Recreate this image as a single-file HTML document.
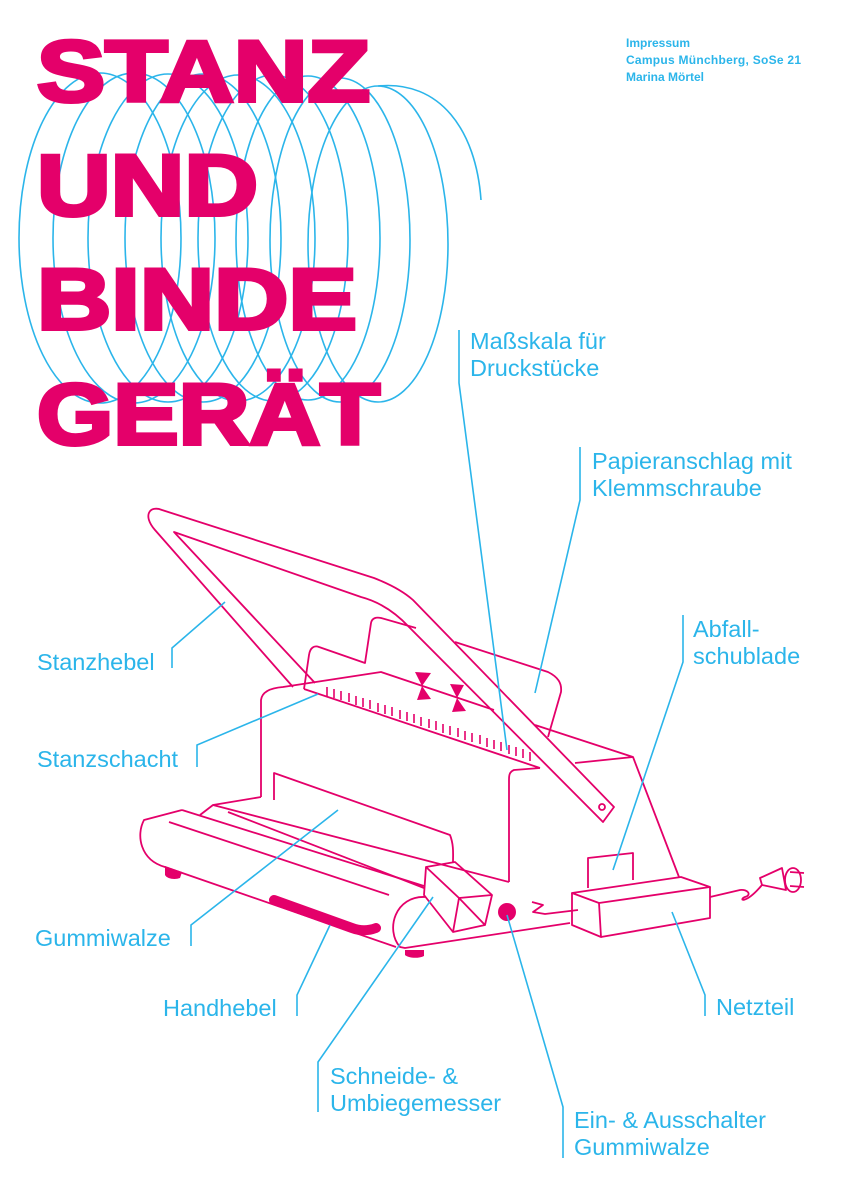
<!DOCTYPE html>
<html><head><meta charset="utf-8"><style>
html,body{margin:0;padding:0;background:#fff}
svg{display:block}
.t{font-family:"Liberation Sans",sans-serif;fill:#2bb5ea;font-size:23.5px}
.i{font-family:"Liberation Sans",sans-serif;fill:#2bb5ea;font-size:12px;font-weight:bold}
.h{font-family:"Liberation Sans",sans-serif;fill:#e4006a;stroke:#e4006a;stroke-width:4;font-weight:900;font-size:86px}
</style></head><body>
<svg width="842" height="1191" viewBox="0 0 842 1191" xmlns="http://www.w3.org/2000/svg">
<g fill="none" stroke="#2bb5ea" stroke-width="1.6">
<ellipse cx="100" cy="238" rx="81" ry="165"/>
<ellipse cx="134" cy="238" rx="81" ry="165"/>
<ellipse cx="168" cy="238" rx="80" ry="164"/>
<ellipse cx="203" cy="238" rx="78" ry="164"/>
<ellipse cx="238" cy="238" rx="77" ry="163"/>
<ellipse cx="273" cy="238" rx="75" ry="163"/>
<ellipse cx="308" cy="238" rx="72" ry="162"/>
<ellipse cx="340" cy="240" rx="70" ry="162"/>
<ellipse cx="378" cy="244" rx="70" ry="158"/>
<path d="M378 86 C440 80 476 130 481 200"/>
</g>
<text class="h" x="37" y="101" textLength="333" lengthAdjust="spacingAndGlyphs">STANZ</text>
<text class="h" x="37" y="215" textLength="221" lengthAdjust="spacingAndGlyphs">UND</text>
<text class="h" x="37" y="329" textLength="320" lengthAdjust="spacingAndGlyphs">BINDE</text>
<text class="h" x="37" y="444" textLength="343" lengthAdjust="spacingAndGlyphs">GERÄT</text>

<text class="i" x="626" y="47">Impressum</text>
<text class="i" x="626" y="64" textLength="175">Campus Münchberg, SoSe 21</text>
<text class="i" x="626" y="81">Marina Mörtel</text>

<g fill="none" stroke="#e4006a" stroke-width="1.8" stroke-linejoin="round">
<path d="M293 687 L155 530 C142 515 150 505 162 510 L374 578 C392 585 404 592 413 600 L614 807 L603 822 L409 627 C395 612 380 602 361 597 L174 532 L315 683"/>
<circle cx="602" cy="807" r="3"/>
<path d="M304 689 L309 655 C310 648 314 645 319 647 L365 663 L371 623 C372 618 376 617 381 618 L416 628"/>
<path d="M455 642 L548 672 C558 677 562 683 561 692 L548 737"/>
<path d="M261 797 L261 700 C262 692 270 688 283 687 L381 672 L494 710"/>
<path d="M304 689 L540 768"/>
<path d="M535 725 L633 757 L679 877"/>
<path d="M575 763 L633 757"/>
<path d="M540 768 L514 770 C509 772 509 776 509 780 L509 882"/>
<path d="M261 797 L213 805 L200 815"/>
<path d="M213 805 L509 882"/>
<path d="M274 800 L274 773 L450 835 C454 845 453 855 453 862"/>
<path d="M182 810 L144 820 C136 835 140 860 165 867 L396 947"/>
<path d="M169 822 L389 895"/>
<path d="M228 812 L424 888"/>
<path d="M182 810 L424 886"/>
<path d="M426 897 C395 895 385 930 400 947 L405 948 L570 923"/>
<path d="M426 867 L455 862 L492 895 L485 925 L453 932 L424 895 Z"/>
<path d="M426 867 L459 898 L492 895 M459 898 L453 932 M459 898 L485 925"/>
<path d="M532 902 L543 905 L533 912 L545 914 L578 910"/>
<path d="M588 888 L588 858 L633 853 L633 880"/>
<path d="M572 893 L681 877 L710 887 L599 903 Z"/>
<path d="M572 893 L572 925 L601 937 L599 903"/>
<path d="M601 937 L710 918 L710 887"/>
<path d="M710 897 L740 890 C748 889 752 895 745 897 C738 900 745 905 762 885"/>
<path d="M762 885 L760 878 L782 868 L786 890 Z"/>
<ellipse cx="793" cy="880" rx="8" ry="12"/>
<path d="M790 872 L804 873 M790 886 L804 887"/>
</g>
<g stroke="#e4006a" stroke-width="1.6">
<path d="M327 687 L327 696 M334 689 L334 698 M341 691 L341 700 M349 693 L349 702 M356 696 L356 705 M363 698 L363 707 M370 700 L370 709 M378 703 L378 712 M385 705 L385 714 M392 707 L392 716 M400 710 L400 719 M407 712 L407 721 M414 714 L414 723 M421 717 L421 726 M429 719 L429 728 M436 721 L436 730 M443 724 L443 733 M450 726 L450 735 M458 728 L458 737 M465 731 L465 740 M472 733 L472 742 M480 735 L480 744 M487 738 L487 747 M494 740 L494 749 M501 742 L501 751 M509 745 L509 754 M516 747 L516 756 M523 749 L523 758 M530 752 L530 761"/>
</g>
<g fill="#e4006a">
<path d="M415 672 L431 673 L422 686 L431 699 L417 700 L422 686 Z"/>
<path d="M450 684 L464 685 L457 698 L466 711 L452 712 L457 698 Z"/>
<circle cx="507" cy="912" r="9"/>
<path d="M165 866 L182 872 L180 878 C175 880 167 879 165 875 Z"/>
<path d="M405 950 L424 950 L424 956 C418 959 408 958 405 955 Z"/>
</g>
<path d="M274 900 L352 928 C360 931 368 931 376 928" fill="none" stroke="#e4006a" stroke-width="10" stroke-linecap="round"/>

<g fill="none" stroke="#2bb5ea" stroke-width="1.6">
<path d="M459 330 L459 383 L507 750"/>
<path d="M580 447 L580 500 L535 693"/>
<path d="M683 615 L683 662 L613 870"/>
<path d="M172 668 L172 648 L225 602"/>
<path d="M197 767 L197 745 L318 694"/>
<path d="M191 946 L191 925 L338 810"/>
<path d="M297 1016 L297 995 L330 925"/>
<path d="M318 1112 L318 1062 L433 897"/>
<path d="M563 1158 L563 1107 L507 915"/>
<path d="M705 1016 L705 995 L672 912"/>
</g>
<text class="t" x="470" y="349">Maßskala für</text>
<text class="t" x="470" y="376">Druckstücke</text>
<text class="t" x="592" y="469">Papieranschlag mit</text>
<text class="t" x="592" y="496">Klemmschraube</text>
<text class="t" x="693" y="637">Abfall-</text>
<text class="t" x="693" y="664">schublade</text>
<text class="t" x="37" y="670">Stanzhebel</text>
<text class="t" x="37" y="767">Stanzschacht</text>
<text class="t" x="35" y="946">Gummiwalze</text>
<text class="t" x="163" y="1016">Handhebel</text>
<text class="t" x="716" y="1015">Netzteil</text>
<text class="t" x="330" y="1084">Schneide- &amp;</text>
<text class="t" x="330" y="1111">Umbiegemesser</text>
<text class="t" x="574" y="1128">Ein- &amp; Ausschalter</text>
<text class="t" x="574" y="1155">Gummiwalze</text>
</svg>
</body></html>
